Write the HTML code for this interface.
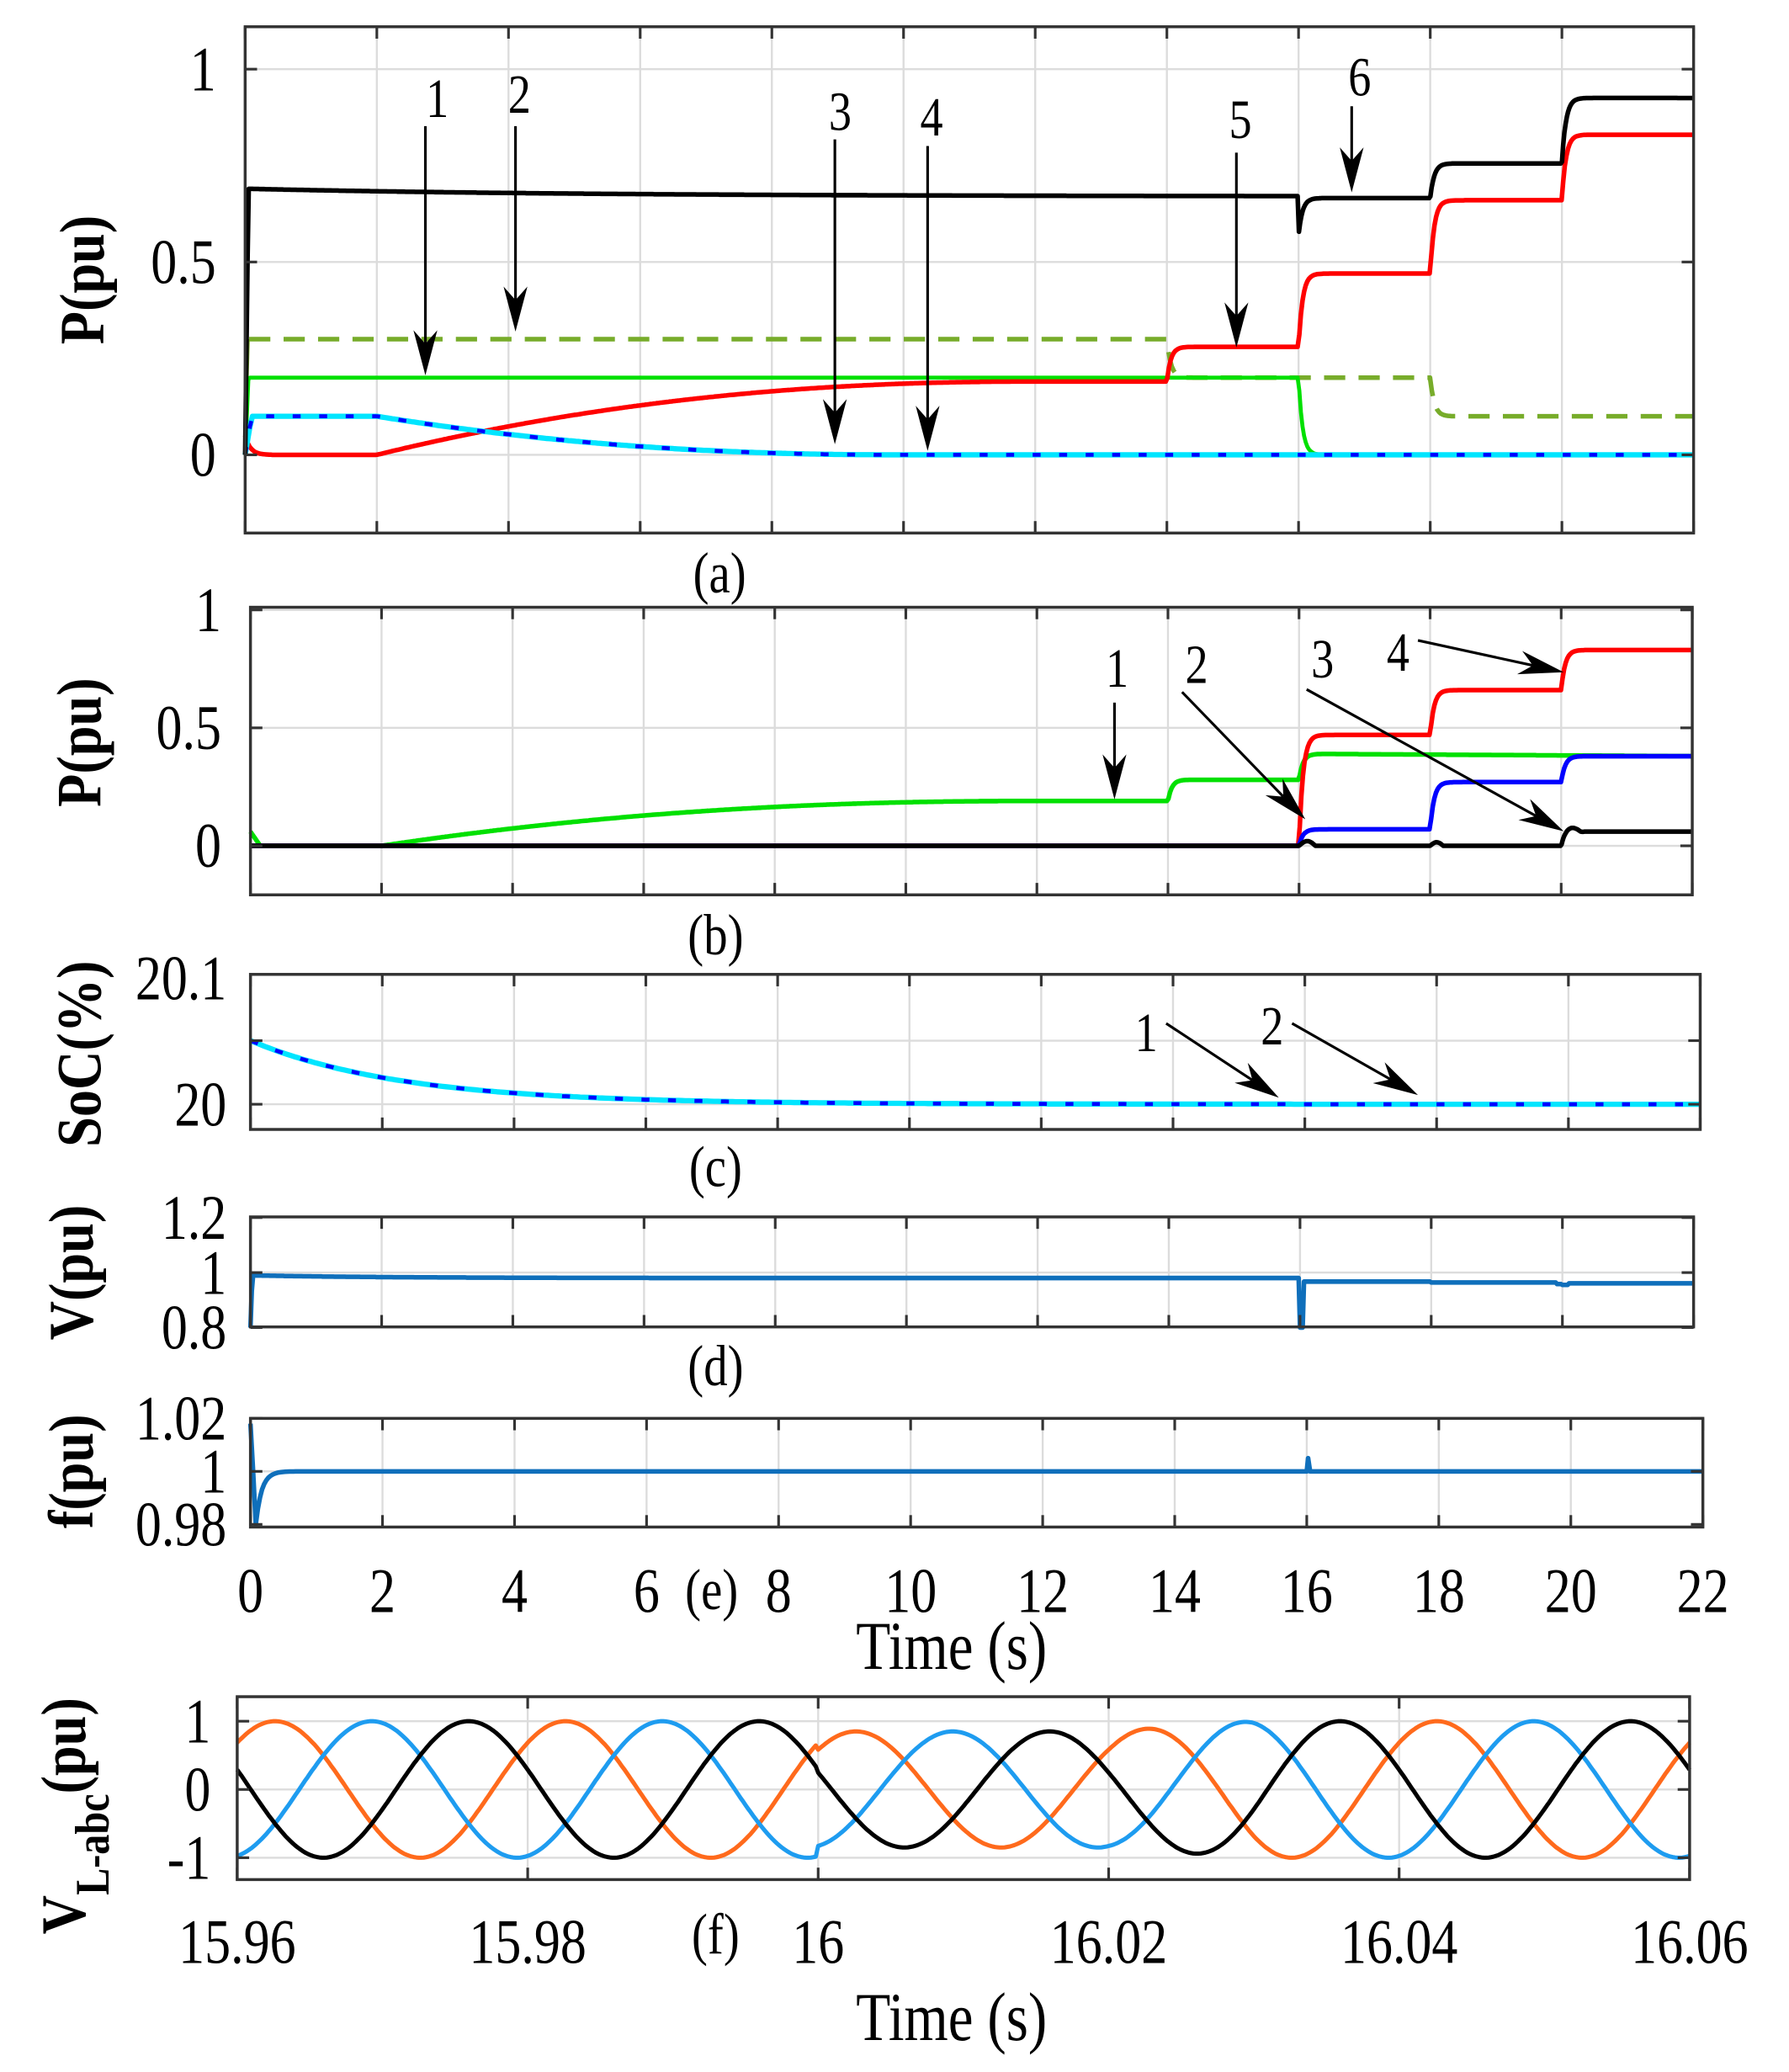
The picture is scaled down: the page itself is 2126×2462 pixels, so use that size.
<!DOCTYPE html>
<html><head><meta charset="utf-8"><style>
html,body{margin:0;padding:0;background:#fff;}
svg{display:block;}
</style></head><body>
<svg id="s" width="2126" height="2462" viewBox="0 0 1350 1563" xmlns="http://www.w3.org/2000/svg" font-family="Liberation Serif, serif"></svg>
<script>
var o=[];
function T(x,y,s,fs,anc,extra){o.push('<text transform="translate('+x+','+y+') scale(0.82,1)'+(extra||'')+'" font-size="'+fs+'" text-anchor="'+(anc||'middle')+'" fill="#000">'+s+'</text>');}
function path(pts,col,w,dash){var d='M'+pts.map(function(p){return p[0].toFixed(1)+','+p[1].toFixed(1)}).join('L');o.push('<path d="'+d+'" fill="none" stroke="'+col+'" stroke-width="'+w+'" stroke-linejoin="round"'+(dash?' stroke-dasharray="'+dash+'"':'')+'/>');}
function arrow(x1,y1,x2,y2){var dx=x2-x1,dy=y2-y1,L=Math.hypot(dx,dy),ux=dx/L,uy=dy/L,hl=34,hw=9;
 var bx=x2-ux*hl,by=y2-uy*hl,mx=x2-ux*hl*0.7,my=y2-uy*hl*0.7;
 o.push('<line x1="'+x1+'" y1="'+y1+'" x2="'+mx+'" y2="'+my+'" stroke="#000" stroke-width="2"/>');
 o.push('<path d="M'+x2+','+y2+'L'+(bx-uy*hw)+','+(by+ux*hw)+'L'+mx+','+my+'L'+(bx+uy*hw)+','+(by-ux*hw)+'Z" fill="#000"/>');}
function panel(L,R,Tp,B,xt,yt,X,Y){
 xt.forEach(function(t){var x=X(t);o.push('<line x1="'+x+'" y1="'+Tp+'" x2="'+x+'" y2="'+B+'" stroke="#dcdcdc" stroke-width="1.5"/>');});
 yt.forEach(function(v){var y=Y(v);o.push('<line x1="'+L+'" y1="'+y+'" x2="'+R+'" y2="'+y+'" stroke="#dcdcdc" stroke-width="1.5"/>');});
}
function frame(L,R,Tp,B,xt,yt,X,Y){
 xt.forEach(function(t){var x=X(t);o.push('<line x1="'+x+'" y1="'+Tp+'" x2="'+x+'" y2="'+(Tp+9)+'" stroke="#333" stroke-width="2"/><line x1="'+x+'" y1="'+B+'" x2="'+x+'" y2="'+(B-9)+'" stroke="#333" stroke-width="2"/>');});
 yt.forEach(function(v){var y=Y(v);o.push('<line x1="'+L+'" y1="'+y+'" x2="'+(L+9)+'" y2="'+y+'" stroke="#333" stroke-width="2"/><line x1="'+R+'" y1="'+y+'" x2="'+(R-9)+'" y2="'+y+'" stroke="#333" stroke-width="2"/>');});
 o.push('<rect x="'+L+'" y="'+Tp+'" width="'+(R-L)+'" height="'+(B-Tp)+'" fill="none" stroke="#333" stroke-width="2.2"/>');
}
function step(t,segs){
 var v=segs[0][1];for(var i=1;i<segs.length;i++){if(t>=segs[i][0]){var a=1-Math.exp(-(t-segs[i][0])/0.06);v=v+(segs[i][1]-v)*a;}}return v;}
function sig(t,t0,t1){if(t<=t0)return 0;if(t>=t1)return 1;var u=(t-t0)/(t1-t0);return 1-Math.pow(1-u,2.2);}
function gen(f,X,Y,t0,t1,n){var p=[];for(var i=0;i<=n;i++){var t=t0+(t1-t0)*i/n;p.push([X(t),Y(f(t))]);}return p;}
var xt=[0,2,4,6,8,10,12,14,16,18,20,22];
var FS=48;

// ---------- Panel a
(function(){var L=185,R=1278,Tp=20,B=402;var X=function(t){return L+t*(R-L)/22},Y=function(p){return 343-p*291};
panel(L,R,Tp,B,xt,[0,0.5,1],X,Y);
path(gen(function(t){return step(t,[[0,0.3],[14,0.2],[18,0.1]])},X,Y,0.06,22,800),'#77ac2a',3.5,'16,10');
path([[X(0),Y(0)],[X(0.05),Y(0.3)]],'#77ac2a',2);
path(gen(function(t){return t<0.05?t/0.05*0.2:step(t,[[0,0.2],[16,0]])},X,Y,0,22,900),'#00e000',3);
path(gen(function(t){if(t<14){var v=t<0.4?0.05*Math.exp(-t/0.08):0;return v+0.19*sig(t,2,12);}return step(t,[[14,0.19],[14,0.28],[16,0.47],[18,0.66],[20,0.83]])},X,Y,0,22,900),'#ff0000',3.5);
var cy=function(t){return t<0.1?t/0.1*0.1:(t<2?0.1:0.1*(1-sig(t,2,10)));};
path(gen(cy,X,Y,0,22,600),'#00e5ff',4);
path(gen(cy,X,Y,0,22,600),'#0000ff',3,'6,14');
path(gen(function(t){if(t<0.05)return t/0.05*0.69;var v=0.69-0.02*(1-Math.exp(-t/5));var s=step(t,[[0,0],[16,-0.005],[18,0.085],[20,0.255]]);if(t>=16&&t<16.4)s-=0.1*Math.exp(-(t-16)/0.06);return v+s;},X,Y,0,22,1200),'#000',3.5);
frame(L,R,Tp,B,xt,[0,0.5,1],X,Y);
T(L-22,Y(1)+16,'1',FS,'end');T(L-22,Y(0.5)+16,'0.5',FS,'end');T(L-22,Y(0)+16,'0',FS,'end');
o.push('<text transform="translate(78,211) rotate(-90) scale(0.85,1)" font-size="48" font-weight="bold" text-anchor="middle">P(pu)</text>');
T(543,447,'(a)',44);
T(330,88,'1',42);arrow(321,95,321,283);T(392,85,'2',42);arrow(389,95,389,250);
T(634,98,'3',42);arrow(630,105,630,335);T(703,102,'4',42);arrow(700,110,700,340);
T(936,104,'5',42);arrow(933,115,933,262);T(1026,72,'6',42);arrow(1020,80,1020,145);
})();

// ---------- Panel b
(function(){var L=189,R=1277,Tp=458,B=675;var X=function(t){return L+t*(R-L)/22},Y=function(p){return 638-p*178};
panel(L,R,Tp,B,xt,[0,0.5,1],X,Y);
path(gen(function(t){if(t<14){var v=t<0.15?0.06*(1-t/0.15):0;return v+0.19*sig(t,2,12);}return step(t,[[14,0.19],[14,0.28],[16,0.39]])-(t>16?0.01*(t-16)/6:0)},X,Y,0,22,900),'#00e000',3.5);
path(gen(function(t){return step(t,[[0,0],[16,0.47],[18,0.66],[20,0.83]])},X,Y,0,22,900),'#ff0000',3.5);
path(gen(function(t){return step(t,[[0,0],[16,0.07],[18,0.27],[20,0.38]])},X,Y,0,22,900),'#0000ff',3.5);
path(gen(function(t){var v=step(t,[[0,0],[20,0.06]]);if(t>16&&t<16.25)v+=0.02*Math.sin(Math.PI*(t-16)/0.25);if(t>18&&t<18.2)v+=0.015*Math.sin(Math.PI*(t-18)/0.2);if(t>20&&t<20.3)v+=0.02*Math.sin(Math.PI*(t-20)/0.3);return v},X,Y,0,22,1500),'#000',3.5);
frame(L,R,Tp,B,xt,[0,0.5,1],X,Y);
T(L-22,Y(1)+16,'1',FS,'end');T(L-22,Y(0.5)+16,'0.5',FS,'end');T(L-22,Y(0)+16,'0',FS,'end');
o.push('<text transform="translate(76,560) rotate(-90) scale(0.85,1)" font-size="48" font-weight="bold" text-anchor="middle">P(pu)</text>');
T(540,720,'(b)',44);
T(843,518,'1',42);arrow(841,530,841,603);T(903,515,'2',42);arrow(892,522,985,618);
T(998,511,'3',42);arrow(986,520,1180,627);T(1055,506,'4',42);arrow(1070,483,1180,507);
})();

// ---------- Panel c
(function(){var L=189,R=1283,Tp=735,B=852;var X=function(t){return L+t*(R-L)/22},Y=function(s){return 833-(s-20)*960};
panel(L,R,Tp,B,xt,[20,20.05],X,Y);
var f=function(t){return 20+0.05*Math.exp(-t/2.3)};
path(gen(f,X,Y,0,22,400),'#00e5ff',4);path(gen(f,X,Y,0,22,400),'#0000ff',3,'6,14');
frame(L,R,Tp,B,xt,[20,20.05],X,Y);
T(L-18,754,'20.1',FS,'end');T(L-18,Y(20)+16,'20',FS,'end');
o.push('<text transform="translate(76,795) rotate(-90) scale(0.85,1)" font-size="48" font-weight="bold" text-anchor="middle">SoC(%)</text>');
T(540,895,'(c)',44);
T(865,793,'1',42);arrow(880,772,965,828);T(960,788,'2',42);arrow(975,772,1070,826);
})();

// ---------- Panel d
(function(){var L=189,R=1278,Tp=918,B=1001;var X=function(t){return L+t*(R-L)/22},Y=function(v){return 960-(v-1)*207.5};
panel(L,R,Tp,B,xt,[1],X,Y);
path(gen(function(t){if(t<0.03)return 0.8+t/0.03*0.2;var v=0.99-0.01*(1-Math.exp(-t/2));v-=0.013*(t>16?1:0);if(t>=16&&t<16.06)return 0.8;if(t>=18)v-=0.003;if(t>=20)v-=0.003;if(t>19.9&&t<20.1)v-=0.006;return v},X,Y,0,22,1100),'#0f6fbb',3.5);
frame(L,R,Tp,B,xt,[0.8,1,1.2],X,Y);
T(L-18,Y(1.2)+16,'1.2',FS,'end');T(L-18,Y(1)+16,'1',FS,'end');T(L-18,Y(0.8)+16,'0.8',FS,'end');
o.push('<text transform="translate(70,960) rotate(-90) scale(0.85,1)" font-size="48" font-weight="bold" text-anchor="middle">V(pu)</text>');
T(540,1045,'(d)',44);
})();

// ---------- Panel e
(function(){var L=189,R=1285,Tp=1070,B=1152;var X=function(t){return L+t*(R-L)/22},Y=function(f){return 1110-(f-1)*2000};
panel(L,R,Tp,B,xt,[1],X,Y);
var p=[[X(0),Y(1.018)],[X(0.04),Y(1.0)],[X(0.08),Y(0.98)]];
p=p.concat(gen(function(t){return 1-0.02*Math.exp(-(t-0.08)/0.09)},X,Y,0.08,16,500));
p.push([X(16.02),Y(1.005)],[X(16.05),Y(1.0)]);p=p.concat(gen(function(){return 1},X,Y,16.05,22,10));
path(p,'#0f6fbb',3.5);
frame(L,R,Tp,B,xt,[0.98,1,1.02],X,Y);
T(L-18,Y(1.02)+16,'1.02',FS,'end');T(L-18,Y(1)+16,'1',FS,'end');T(L-18,Y(0.98)+16,'0.98',FS,'end');
o.push('<text transform="translate(70,1110) rotate(-90) scale(0.85,1)" font-size="48" font-weight="bold" text-anchor="middle">f(pu)</text>');
xt.forEach(function(t){T(X(t),1216,String(t),FS);});
T(537,1214,'(e)',44);
T(718,1259,'Time (s)',52);
})();

// ---------- Panel f
(function(){var L=179,R=1275,Tp=1280,B=1418;var X=function(t){return L+(t-15.96)*(R-L)/0.1},Y=function(v){return 1350-v*51.5};
var xtf=[15.96,15.98,16,16.02,16.04,16.06];
panel(L,R,Tp,B,xtf,[-1,0,1],X,Y);
function env(t){if(t<16)return 1;if(t<16.02)return 0.85;if(t<16.03)return 0.85+0.15*(t-16.02)/0.01;return 1;}
var cols=['#ff6a1c','#1e9cf0','#000'];
[0,1,2].forEach(function(k){path(gen(function(t){return env(t)*Math.cos(2*Math.PI*50*(t-15.9626)-k*2*Math.PI/3)},X,Y,15.96,16.06,600),cols[k],3.2);});
frame(L,R,Tp,B,xtf,[-1,0,1],X,Y);
T(L-20,Y(1)+16,'1',FS,'end');T(L-20,Y(0)+16,'0',FS,'end');T(L-20,Y(-1)+16,'-1',FS,'end');
var lab=['15.96','15.98','16','16.02','16.04','16.06'];xtf.forEach(function(t,i){T(X(t),1481,lab[i],FS);});
T(540,1474,'(f)',44);
T(718,1539,'Time (s)',52);
o.push('<text transform="translate(64,1370) rotate(-90) scale(0.85,1)" font-size="48" font-weight="bold" text-anchor="middle">V<tspan font-size="36" dy="18">L-abc</tspan><tspan dy="-18">(pu)</tspan></text>');
})();
document.getElementById('s').innerHTML=o.join('');
</script>
</body></html>
